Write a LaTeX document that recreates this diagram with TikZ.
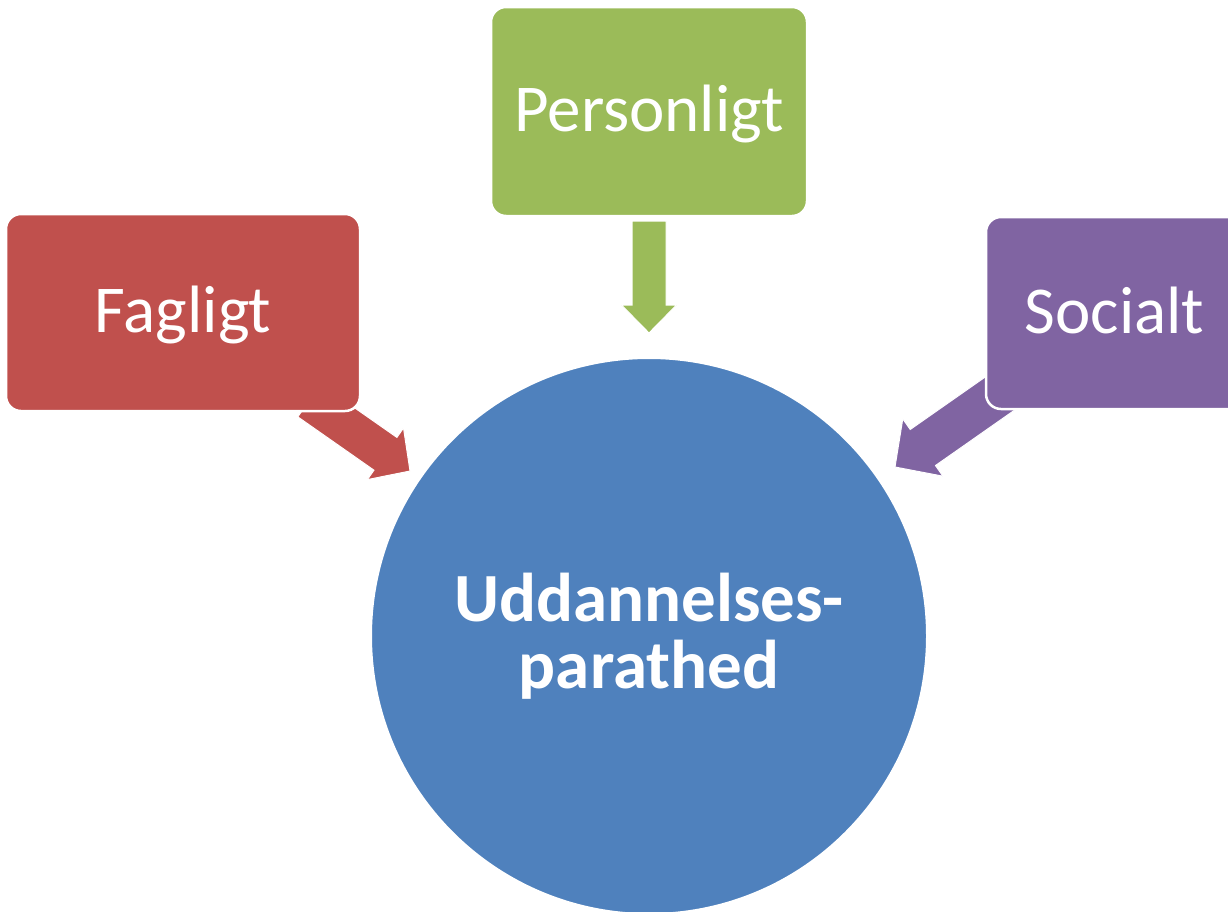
\documentclass[tikz,border=0pt]{standalone}
\usepackage{fontspec}
\setmainfont{Carlito}
\definecolor{cred}{HTML}{C0504D}
\definecolor{cgreen}{HTML}{9BBB59}
\definecolor{cpurple}{HTML}{8064A2}
\definecolor{cblue}{HTML}{4F81BD}
\tikzset{
  box/.style={rectangle, rounded corners=15pt, draw=white, line width=2.5pt,
    text=white, inner sep=0pt, outer sep=0pt, text height=40pt, text depth=0pt,
    font=\fontsize{67}{67}\selectfont},
  hub/.style={circle, draw=white, line width=2pt, fill=cblue, text=white,
    inner sep=0pt, minimum size=556pt, align=center,
    font=\fontsize{69}{67}\selectfont\bfseries},
  blockarrow/.style={draw=white, line width=1pt}
}
\newcommand\blockarrow[7]{%
  \begin{scope}[shift={#2}, rotate=#3]
    \filldraw[blockarrow, fill=#1] (0,0) -- (-#7,#6) -- (-#7,#5) -- (-#4,#5)
      -- (-#4,-#5) -- (-#7,-#5) -- (-#7,-#6) -- cycle;
  \end{scope}}
\begin{document}
\begin{tikzpicture}[x=1pt,y=-1pt]
  \useasboundingbox (0,0) rectangle (1228,911);
  \clip (0,0) rectangle (1228,911);
  % arrows (drawn beneath the boxes)
  \blockarrow{cgreen}{(649,333)}{-90}{112}{17}{27.5}{28}
  \blockarrow{cred}{(410,471)}{-35}{123}{20}{31.5}{30}
  \blockarrow{cpurple}{(895,467)}{215}{136}{22}{35}{34}
  % boxes
  \node[box, fill=cgreen, minimum width=316pt, minimum height=209pt] (pers) at (649,111.5) {Personligt};
  \node[box, fill=cred, minimum width=354pt, minimum height=197pt] (fag) at (183,312.5) {Fagligt};
  \node[box, fill=cpurple, minimum width=257pt, minimum height=192pt] (soc) at (1114.5,313) {Socialt};
  % hub
  \node[hub] (hubc) at (649,636) {Uddannelses-\\parathed};
\end{tikzpicture}
\end{document}
